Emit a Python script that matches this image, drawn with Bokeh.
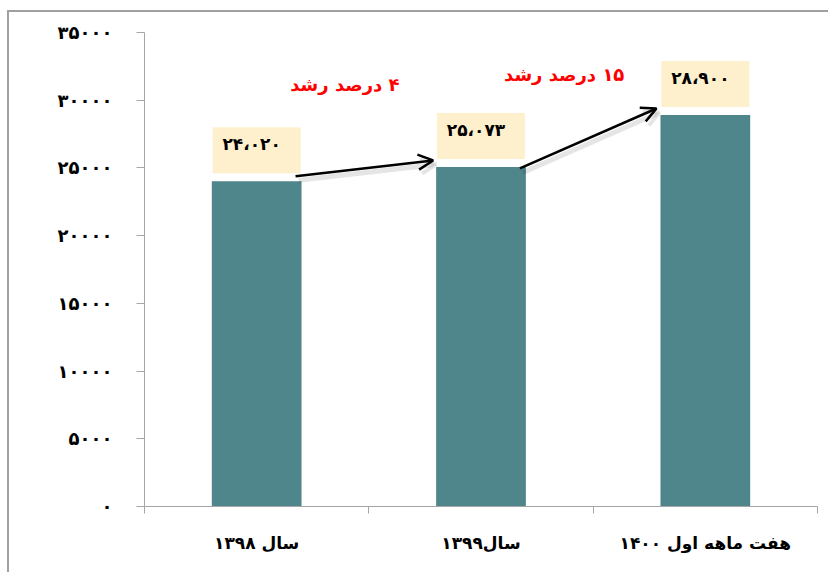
from bokeh.plotting import figure
from bokeh.models import ColumnDataSource, FixedTicker, Range1d, Arrow, OpenHead
from bokeh.core.properties import value
from bokeh.embed import file_html
from bokeh.resources import INLINE

# ---- data ----
categories = ["سال ۱۳۹۸", "سال۱۳۹۹", "هفت ماهه اول ۱۴۰۰"]
values = [24020, 25073, 28900]
value_labels = ["۲۴،۰۲۰", "۲۵،۰۷۳", "۲۸،۹۰۰"]
growth_labels = ["۴ درصد رشد", "۱۵ درصد رشد"]
y_ticks = [0, 5000, 10000, 15000, 20000, 25000, 30000, 35000]
y_tick_labels = ["۰", "۵۰۰۰", "۱۰۰۰۰", "۱۵۰۰۰", "۲۰۰۰۰", "۲۵۰۰۰", "۳۰۰۰۰", "۳۵۰۰۰"]

FONT = "DejaVu Sans"
BAR_COLOR = "#4F868C"
BOX_COLOR = "#FEF0CD"
AXIS_COLOR = "#A6A6A6"
RLE, PDF = "\u202b", "\u202c"   # right-to-left embedding for Persian phrases

n = len(categories)
centers = [i + 0.5 for i in range(n)]
bar_w = 0.4
y_max = 35000
frame_w, frame_h = 673, 474
ppu = frame_h / y_max          # pixels per data unit (y)
ppx = frame_w / n              # pixels per data unit (x)

p = figure(frame_width=frame_w, frame_height=frame_h,
           x_range=Range1d(0, n), y_range=Range1d(0, y_max),
           output_backend="svg", toolbar_location=None,
           min_border_left=135, min_border_right=11, min_border_top=20,
           min_border_bottom=66)
p.margin = (10, 0, 0, 7)
p.styles = {"border-left": "2px solid #A0A0A0", "border-top": "2px solid #A0A0A0"}
p.outline_line_color = None
p.xgrid.visible = False
p.ygrid.visible = False
p.background_fill_color = "white"
p.border_fill_color = "white"

src = ColumnDataSource(dict(x=centers, top=values, label=value_labels,
                            box_y=[v + 31 / ppu for v in values]))

p.vbar(x="x", top="top", width=bar_w, bottom=0, source=src,
       fill_color=BAR_COLOR, line_color=None)

# value label boxes
p.rect(x="x", y="box_y", width=88, height=46, width_units="screen",
       height_units="screen", source=src, fill_color=BOX_COLOR, line_color=None)
p.text(x="x", y="box_y", text="label", source=src, x_offset=-5, y_offset=-6,
       text_align="center", text_baseline="middle",
       text_font=value(FONT), text_font_style="bold", text_font_size="17px",
       text_color="black")

# arrows between bars
def arrow_pts(i):
    a = i + 1
    if i == 0:
        xs = centers[i] + bar_w / 2 - 6 / ppx
        ys = values[i] + 5 / ppu
        xe = centers[a] - bar_w / 2 - 3 / ppx
        ye = values[a] + 6.5 / ppu
    else:
        xs = centers[i] + bar_w / 2 - 6 / ppx
        ys = values[i] - 1.5 / ppu
        xe = centers[a] - bar_w / 2 - 4 / ppx
        ye = values[a] + 6.6 / ppu
    return xs, ys, xe, ye

for i in range(n - 1):
    xs, ys, xe, ye = arrow_pts(i)
    # soft shadow
    p.add_layout(Arrow(end=OpenHead(size=15, line_width=4, line_color="black",
                                    line_alpha=0.1),
                       x_start=xs + 3 / ppx, y_start=ys - 4 / ppu,
                       x_end=xe + 3 / ppx, y_end=ye - 4 / ppu,
                       line_width=5, line_color="black", line_alpha=0.1))
    p.add_layout(Arrow(end=OpenHead(size=15, line_width=2.5, line_color="black"),
                       x_start=xs, y_start=ys, x_end=xe, y_end=ye,
                       line_width=2.5, line_color="black"))

# growth annotations
gsrc = ColumnDataSource(dict(x=[1, 2], y=[y_max, y_max],
                             t=[RLE + g + PDF for g in growth_labels],
                             xo=[-24, -29], yo=[52, 42]))
p.text(x="x", y="y", text="t", x_offset="xo", y_offset="yo", source=gsrc,
       text_align="center", text_baseline="middle",
       text_font=value(FONT), text_font_style="bold", text_font_size="18px",
       text_color="#FF0000")

# y axis
ya = p.yaxis[0]
ya.ticker = FixedTicker(ticks=y_ticks, minor_ticks=[])
ya.major_label_overrides = {t: l for t, l in zip(y_ticks, y_tick_labels)}
ya.axis_line_color = AXIS_COLOR
ya.major_tick_line_color = AXIS_COLOR
ya.major_tick_in = 0
ya.major_tick_out = 8
ya.minor_tick_line_color = None
ya.major_label_standoff = 24
ya.major_label_text_font = FONT
ya.major_label_text_font_style = "bold"
ya.major_label_text_font_size = "18px"
ya.major_label_text_color = "black"

# x axis: labels at centres, ticks at category boundaries
xa = p.xaxis[0]
xa.ticker = FixedTicker(ticks=centers, minor_ticks=list(range(n + 1)))
xa.major_label_overrides = {c: l for c, l in zip(centers, categories)}
xa.axis_line_color = AXIS_COLOR
xa.major_tick_line_color = None
xa.major_tick_in = 0
xa.major_tick_out = 0
xa.minor_tick_line_color = AXIS_COLOR
xa.minor_tick_in = 0
xa.minor_tick_out = 7
xa.major_label_standoff = 19
xa.major_label_text_font = FONT
xa.major_label_text_font_style = "bold"
xa.major_label_text_font_size = "17px"
xa.major_label_text_color = "black"

open("out.html", "w").write(file_html(p, INLINE))
